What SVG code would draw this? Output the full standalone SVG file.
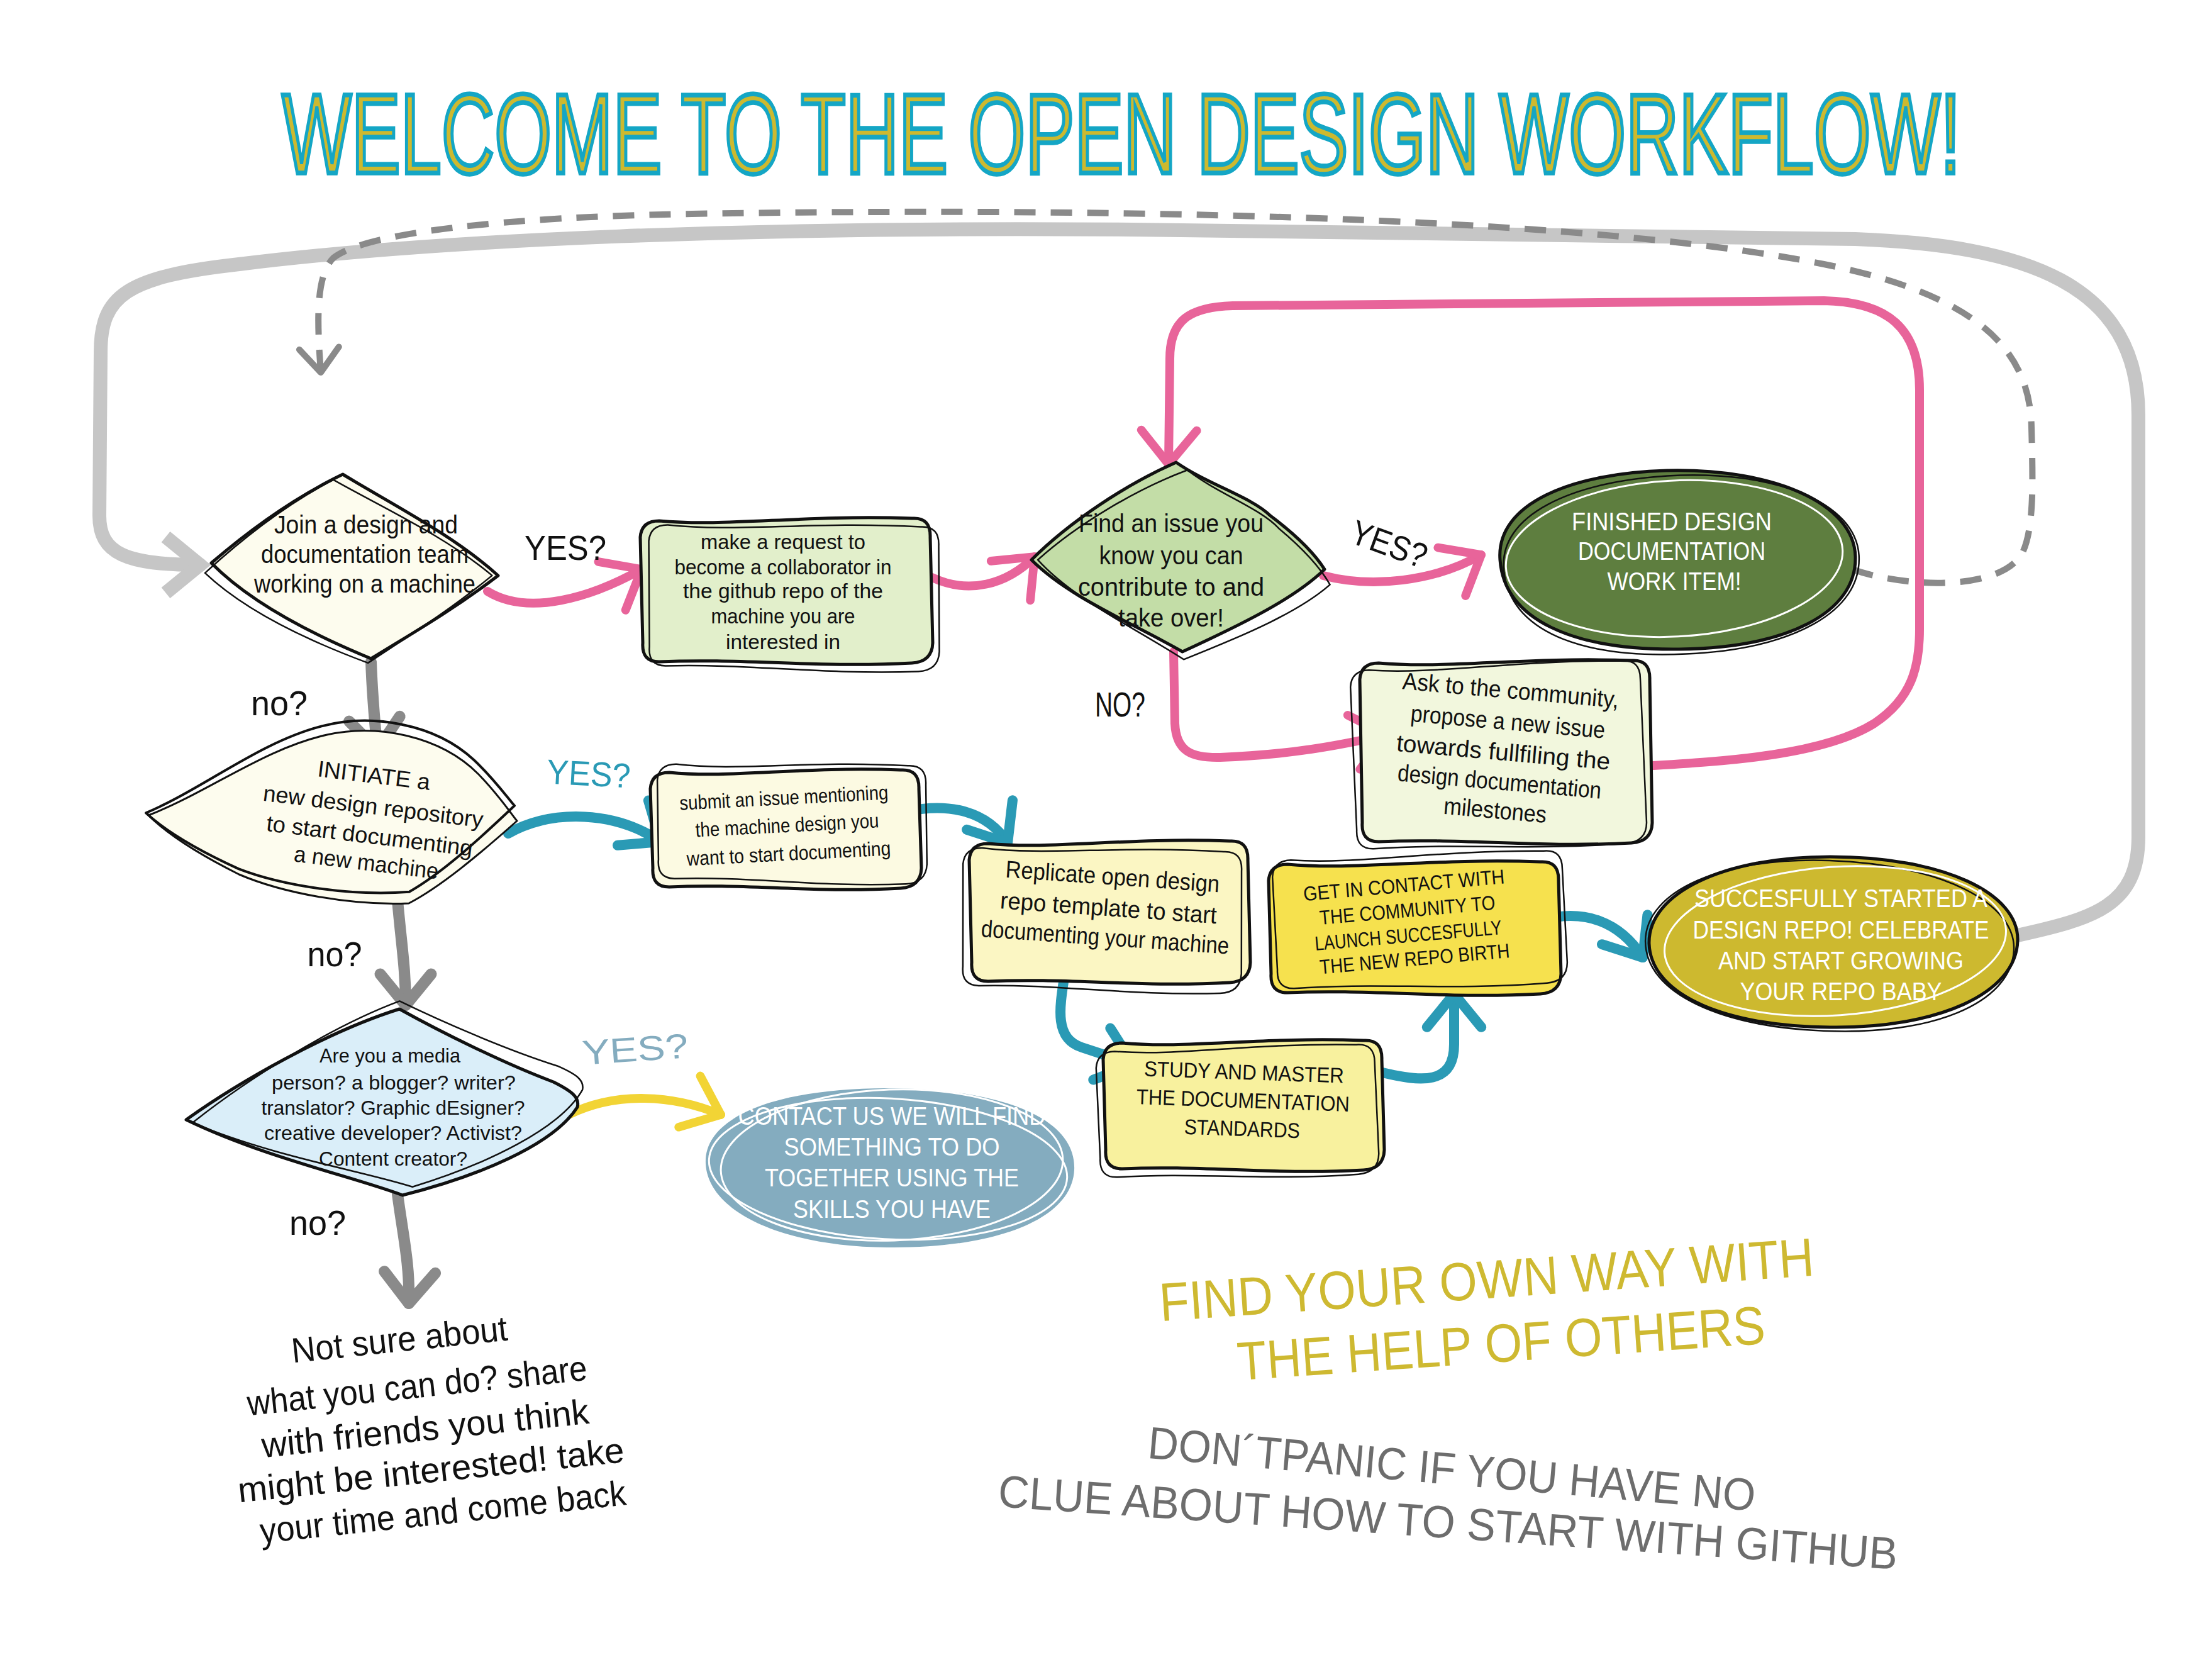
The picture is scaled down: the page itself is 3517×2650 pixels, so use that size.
<svg xmlns="http://www.w3.org/2000/svg" xmlns:xlink="http://www.w3.org/1999/xlink" width="3517" height="2650" viewBox="0 0 3517 2650">
<style>
.hand{font-family:"Liberation Sans Narrow","Liberation Sans",Arial,sans-serif;text-anchor:middle}
.blk{fill:#111}
.wht{fill:#fff}
.o1{stroke:#111;stroke-width:5;stroke-linejoin:round}
.o2{fill:none;stroke:#111;stroke-width:2.5;stroke-linejoin:round}
.wl{fill:none;stroke:#fff;stroke-width:3}
.c{fill:none;stroke-linecap:round;stroke-linejoin:round}
.pink{stroke:#E8649A;stroke-width:14}
.teal{stroke:#2A9AB5;stroke-width:16}
.gray{stroke:#8A8A8A;stroke-width:18}
.yel{stroke:#F2D435;stroke-width:14}
.loop{stroke:#C6C6C6;stroke-width:22}
.dash{stroke:#8A8A8A;stroke-width:10;stroke-dasharray:34 24;stroke-linecap:butt}
</style>
<defs>
<marker id="mPink" viewBox="0 0 10 10" refX="8" refY="5" markerWidth="7" markerHeight="7" orient="auto" markerUnits="strokeWidth" overflow="visible"><path d="M2.5,0.5 L8,5 L2.5,9.5" fill="none" stroke="#E8649A" stroke-width="1.4" stroke-linecap="round" stroke-linejoin="round"/></marker>
<marker id="mTeal" viewBox="0 0 10 10" refX="8" refY="5" markerWidth="6" markerHeight="6" orient="auto" markerUnits="strokeWidth" overflow="visible"><path d="M2.5,0.5 L8,5 L2.5,9.5" fill="none" stroke="#2A9AB5" stroke-width="1.67" stroke-linecap="round" stroke-linejoin="round"/></marker>
<marker id="mGray" viewBox="0 0 10 10" refX="8" refY="5" markerWidth="5" markerHeight="5" orient="auto" markerUnits="strokeWidth" overflow="visible"><path d="M2.5,0.5 L8,5 L2.5,9.5" fill="none" stroke="#8A8A8A" stroke-width="2" stroke-linecap="round" stroke-linejoin="round"/></marker>
<marker id="mYel" viewBox="0 0 10 10" refX="8" refY="5" markerWidth="7" markerHeight="7" orient="auto" markerUnits="strokeWidth" overflow="visible"><path d="M2.5,0.5 L8,5 L2.5,9.5" fill="none" stroke="#F2D435" stroke-width="1.4" stroke-linecap="round" stroke-linejoin="round"/></marker>
<marker id="mLoop" viewBox="0 0 10 10" refX="8" refY="5" markerWidth="4.5" markerHeight="4.5" orient="auto" markerUnits="strokeWidth" overflow="visible"><path d="M2.5,0.5 L8,5 L2.5,9.5" fill="none" stroke="#C6C6C6" stroke-width="2.2" stroke-linejoin="miter"/></marker>
<marker id="mDash" viewBox="0 0 10 10" refX="8" refY="5" markerWidth="7" markerHeight="7" orient="auto" markerUnits="strokeWidth" overflow="visible"><path d="M2.5,0.5 L8,5 L2.5,9.5" fill="none" stroke="#8A8A8A" stroke-width="1.43" stroke-dasharray="none" stroke-linecap="round" stroke-linejoin="round"/></marker>
<path id="sA" d="M545 754 C620 800,720 850,792 915 C720 970,650 1010,590 1047 C500 1010,400 960,336 895 C400 840,470 790,545 754 Z"/>
<path id="sB" d="M1048,828 C1158,838 1273,818 1450,824 Q1480,822 1479,854 L1483,1022 Q1482,1052 1450,1054 C1296,1062 1181,1046 1048,1052 Q1020,1052 1022,1022 L1018,854 Q1020,828 1048,828 Z"/>
<path id="sC" d="M1870 735 C1920 770,1990 790,2020 820 C2060 850,2090 880,2106 905 C2060 950,1980 990,1880 1036 C1800 990,1700 950,1640 890 C1700 830,1790 770,1870 735 Z"/>
<path id="sD" d="M2385 890 C2378 800,2500 752,2650 748 C2820 744,2948 800,2950 885 C2952 975,2840 1030,2670 1032 C2500 1034,2392 985,2385 890 Z"/>
<path id="sE" d="M2192,1054 C2302,1064 2417,1044 2594,1050 Q2624,1048 2623,1080 L2627,1308 Q2626,1338 2594,1340 C2440,1348 2325,1332 2192,1338 Q2164,1338 2166,1308 L2162,1080 Q2164,1054 2192,1054 Z"/>
<path id="sF" d="M236 1296 C330 1260,420 1190,520 1168 C600 1150,700 1170,760 1230 C790 1260,810 1290,822 1305 C760 1360,700 1410,650 1436 C560 1440,450 1420,380 1390 C320 1360,270 1330,236 1296 Z"/>
<path id="sG" d="M1064,1228 C1164,1238 1270,1218 1432,1224 Q1462,1222 1461,1254 L1465,1380 Q1464,1410 1432,1412 C1292,1420 1185,1404 1064,1410 Q1036,1410 1038,1380 L1034,1254 Q1036,1228 1064,1228 Z"/>
<path id="sH" d="M1571,1341 C1676,1351 1786,1331 1955,1337 Q1985,1335 1984,1367 L1988,1530 Q1987,1560 1955,1562 C1808,1570 1698,1554 1571,1560 Q1543,1560 1545,1530 L1541,1367 Q1543,1341 1571,1341 Z"/>
<path id="sI" d="M2047,1374 C2157,1384 2272,1364 2449,1370 Q2479,1368 2478,1400 L2482,1548 Q2481,1578 2449,1580 C2295,1588 2180,1572 2047,1578 Q2019,1578 2021,1548 L2017,1400 Q2019,1374 2047,1374 Z"/>
<path id="sJ" d="M1784,1658 C1889,1668 1999,1648 2168,1654 Q2198,1652 2197,1684 L2201,1828 Q2200,1858 2168,1860 C2021,1868 1911,1852 1784,1858 Q1756,1858 1758,1828 L1754,1684 Q1756,1658 1784,1658 Z"/>
<path id="sK" d="M2622 1500 C2620 1420,2740 1362,2910 1362 C3090 1362,3210 1420,3208 1495 C3206 1580,3080 1635,2910 1633 C2750 1632,2625 1585,2622 1500 Z"/>
<path id="sL" d="M635 1604 C700 1640,800 1690,880 1720 C910 1735,922 1745,918 1760 C880 1820,760 1870,640 1900 C560 1870,420 1840,296 1780 C380 1720,520 1640,635 1604 Z"/>
<path id="sM" d="M1122 1850 C1118 1770,1250 1728,1420 1730 C1600 1732,1712 1780,1708 1860 C1704 1940,1580 1985,1410 1983 C1240 1981,1126 1925,1122 1850 Z"/>
</defs>
<rect width="3517" height="2650" fill="#fff"/>

<g transform="translate(1783,275) scale(1,1.5)">
<text id="title" class="hand" x="0" y="0" font-size="120" textLength="2669" lengthAdjust="spacingAndGlyphs" fill="#CDB92F" stroke="#14A6C5" stroke-width="5">WELCOME TO THE OPEN DESIGN WORKFLOW!</text>
</g>

<g id="connectors">
<path class="c loop" d="M3208 1487 C3330 1460,3400 1440,3400 1330 L3400 660 C3400 450,3220 390,2950 380 L1800 365 C1200 360,700 380,380 420 C200 440,160 470,160 560 L158 820 C158 880,200 898,318 898" marker-end="url(#mLoop)"/>
<path class="c dash" d="M2945 905 C3030 935,3180 940,3215 880 C3235 840,3232 760,3230 680 C3228 560,3150 470,2900 420 C2500 340,1700 330,1100 340 C800 345,580 370,530 410 C500 440,505 520,510 592" marker-end="url(#mDash)"/>
<path class="c pink" d="M775 940 C840 980,940 950,1020 905" marker-end="url(#mPink)"/>
<path class="c pink" d="M1482 918 C1540 945,1600 930,1645 885" marker-end="url(#mPink)"/>
<path class="c pink" d="M2104 915 C2180 935,2280 925,2355 882" marker-end="url(#mPink)"/>
<path class="c pink" d="M1866 1036 L1868 1150 C1870 1195,1895 1205,1940 1204 C2050 1200,2130 1185,2205 1168" marker-end="url(#mPink)"/>
<path class="c pink" d="M2613 1218 C2750 1210,2900 1200,2980 1150 C3040 1110,3052 1060,3052 1000 L3052 620 C3052 520,3000 480,2900 478 L1960 486 C1890 488,1860 510,1860 570 L1858 738" marker-end="url(#mPink)"/>
<path class="c teal" d="M808 1325 C880 1285,980 1290,1050 1338" marker-end="url(#mTeal)"/>
<path class="c teal" d="M1442 1290 C1510 1275,1570 1290,1602 1340" marker-end="url(#mTeal)"/>
<path class="c teal" d="M1693 1548 C1685 1600,1675 1650,1720 1665 L1802 1692" marker-end="url(#mTeal)"/>
<path class="c teal" d="M2198 1705 C2260 1720,2312 1725,2312 1660 L2312 1580" marker-end="url(#mTeal)"/>
<path class="c teal" d="M2452 1462 C2520 1445,2575 1465,2612 1522" marker-end="url(#mTeal)"/>
<path class="c gray" d="M590 1052 C592 1110,596 1150,600 1192" marker-end="url(#mGray)"/>
<path class="c gray" d="M632 1431 C638 1500,645 1540,645 1598" marker-end="url(#mGray)"/>
<path class="c gray" d="M632 1898 C640 1960,652 2010,650 2072" marker-end="url(#mGray)"/>
<path class="c yel" d="M904 1772 C980 1735,1070 1740,1146 1772" marker-end="url(#mYel)"/>
</g>

<g id="join">
<use href="#sA" class="o1" fill="#FDFCEE"/>
<use href="#sA" class="o2" transform="translate(-10,8) rotate(-2 560 900)"/>
<text class="hand blk" font-size="40" x="582" y="848" textLength="292" lengthAdjust="spacingAndGlyphs">Join a design and</text>
<text class="hand blk" font-size="40" x="580" y="895" textLength="330" lengthAdjust="spacingAndGlyphs">documentation team</text>
<text class="hand blk" font-size="40" x="580" y="942" textLength="352" lengthAdjust="spacingAndGlyphs">working on a machine</text>
</g>

<g id="request">
<use href="#sB" class="o1" fill="#E2EFCB"/>
<use href="#sB" class="o2" transform="translate(12,10) rotate(1 1250 940)"/>
<g class="hand blk" font-size="34">
<text x="1245" y="873" textLength="262" lengthAdjust="spacingAndGlyphs">make a request to</text>
<text x="1245" y="913" textLength="345" lengthAdjust="spacingAndGlyphs">become a collaborator in</text>
<text x="1245" y="951" textLength="318" lengthAdjust="spacingAndGlyphs">the github repo of the</text>
<text x="1245" y="991" textLength="229" lengthAdjust="spacingAndGlyphs">machine you are</text>
<text x="1245" y="1032" textLength="182" lengthAdjust="spacingAndGlyphs">interested in</text>
</g>
</g>

<g id="findissue">
<use href="#sC" class="o1" fill="#C3DDA7"/>
<use href="#sC" class="o2" transform="translate(10,12) rotate(3 1870 885)"/>
<g class="hand blk" font-size="40">
<text x="1862" y="846" textLength="294" lengthAdjust="spacingAndGlyphs">Find an issue you</text>
<text x="1862" y="897" textLength="229" lengthAdjust="spacingAndGlyphs">know you can</text>
<text x="1862" y="947" textLength="296" lengthAdjust="spacingAndGlyphs">contribute to and</text>
<text x="1862" y="996" textLength="168" lengthAdjust="spacingAndGlyphs">take over!</text>
</g>
</g>

<g id="finished">
<use href="#sD" class="o1" fill="#5E7E3F"/>
<use href="#sD" class="o2" transform="translate(6,8) rotate(-2 2660 890)"/>
<ellipse class="wl" cx="2662" cy="888" rx="268" ry="124" transform="rotate(-3 2662 888)"/>
<g class="hand wht" font-size="40">
<text x="2658" y="843" textLength="318" lengthAdjust="spacingAndGlyphs">FINISHED DESIGN</text>
<text x="2658" y="890" textLength="298" lengthAdjust="spacingAndGlyphs">DOCUMENTATION</text>
<text x="2662" y="938" textLength="213" lengthAdjust="spacingAndGlyphs">WORK ITEM!</text>
</g>
</g>

<g id="ask">
<use href="#sE" class="o1" fill="#F2F7DD"/>
<use href="#sE" class="o2" transform="translate(-12,6) rotate(-1.5 2393 1190)"/>
<g class="hand blk" font-size="38" transform="rotate(5 2393 1200)">
<text x="2393" y="1110" textLength="345" lengthAdjust="spacingAndGlyphs">Ask to the community,</text>
<text x="2393" y="1160" textLength="310" lengthAdjust="spacingAndGlyphs">propose a new issue</text>
<text x="2390" y="1209" textLength="341" lengthAdjust="spacingAndGlyphs">towards fullfiling the</text>
<text x="2388" y="1256" textLength="325" lengthAdjust="spacingAndGlyphs">design documentation</text>
<text x="2385" y="1302" textLength="164" lengthAdjust="spacingAndGlyphs">milestones</text>
</g>
</g>

<g id="initiate">
<use href="#sF" class="o1" fill="#FDFCEE" style="stroke-width:3"/>
<use href="#sF" class="o2" transform="translate(-4,-14) rotate(-2 530 1300)" style="stroke-width:4"/>
<g class="hand blk" font-size="36" transform="rotate(7 590 1310)">
<text x="585" y="1245" textLength="180" lengthAdjust="spacingAndGlyphs">INITIATE a</text>
<text x="590" y="1294" textLength="352" lengthAdjust="spacingAndGlyphs">new design repository</text>
<text x="590" y="1341" textLength="330" lengthAdjust="spacingAndGlyphs">to start documenting</text>
<text x="590" y="1384" textLength="231" lengthAdjust="spacingAndGlyphs">a new machine</text>
</g>
</g>

<g id="submit">
<use href="#sG" class="o1" fill="#FCFAE2"/>
<use href="#sG" class="o2" transform="translate(10,-10) rotate(1 1249 1316)"/>
<g class="hand blk" font-size="32" transform="rotate(-3 1249 1320)">
<text x="1249" y="1279" textLength="332" lengthAdjust="spacingAndGlyphs">submit an issue mentioning</text>
<text x="1252" y="1323" textLength="292" lengthAdjust="spacingAndGlyphs">the machine design you</text>
<text x="1252" y="1368" textLength="325" lengthAdjust="spacingAndGlyphs">want to start documenting</text>
</g>
</g>

<g id="replicate">
<use href="#sH" class="o1" fill="#FBF6C3"/>
<use href="#sH" class="o2" transform="translate(-12,12) rotate(1.5 1764 1448)"/>
<g class="hand blk" font-size="38" transform="rotate(4 1760 1450)">
<text x="1765" y="1406" textLength="341" lengthAdjust="spacingAndGlyphs">Replicate open design</text>
<text x="1762" y="1456" textLength="345" lengthAdjust="spacingAndGlyphs">repo template to start</text>
<text x="1760" y="1503" textLength="395" lengthAdjust="spacingAndGlyphs">documenting your machine</text>
</g>
</g>

<g id="contactcommunity">
<use href="#sI" class="o1" fill="#F6E14E"/>
<use href="#sI" class="o2" transform="translate(8,-12) rotate(-1.5 2249 1473)"/>
<g class="hand blk" font-size="32" transform="rotate(-5 2238 1475)">
<text x="2238" y="1418" textLength="321" lengthAdjust="spacingAndGlyphs">GET IN CONTACT WITH</text>
<text x="2240" y="1458" textLength="280" lengthAdjust="spacingAndGlyphs">THE COMMUNITY TO</text>
<text x="2238" y="1498" textLength="298" lengthAdjust="spacingAndGlyphs">LAUNCH SUCCESFULLY</text>
<text x="2245" y="1536" textLength="303" lengthAdjust="spacingAndGlyphs">THE NEW REPO BIRTH</text>
</g>
</g>

<g id="study">
<use href="#sJ" class="o1" fill="#F8F19E"/>
<use href="#sJ" class="o2" transform="translate(-10,10) rotate(-1 1977 1755)"/>
<g class="hand blk" font-size="34" transform="rotate(2 1976 1760)">
<text x="1976" y="1716" textLength="318" lengthAdjust="spacingAndGlyphs">STUDY AND MASTER</text>
<text x="1976" y="1761" textLength="339" lengthAdjust="spacingAndGlyphs">THE DOCUMENTATION</text>
<text x="1976" y="1806" textLength="184" lengthAdjust="spacingAndGlyphs">STANDARDS</text>
</g>
</g>

<g id="started">
<use href="#sK" class="o1" fill="#CDB92F"/>
<use href="#sK" class="o2" transform="translate(-6,6) rotate(2 2915 1498)"/>
<ellipse class="wl" cx="2918" cy="1496" rx="272" ry="118" transform="rotate(-4 2918 1496)"/>
<g class="hand wht" font-size="40">
<text x="2927" y="1442" textLength="466" lengthAdjust="spacingAndGlyphs">SUCCESFULLY STARTED A</text>
<text x="2927" y="1492" textLength="471" lengthAdjust="spacingAndGlyphs">DESIGN REPO! CELEBRATE</text>
<text x="2927" y="1541" textLength="390" lengthAdjust="spacingAndGlyphs">AND START GROWING</text>
<text x="2927" y="1590" textLength="321" lengthAdjust="spacingAndGlyphs">YOUR REPO BABY</text>
</g>
</g>

<g id="media">
<use href="#sL" class="o1" fill="#DAEEF9"/>
<use href="#sL" class="o2" transform="translate(8,-12) rotate(-3 620 1750)"/>
<g class="hand blk" font-size="32">
<text x="620" y="1689" textLength="224" lengthAdjust="spacingAndGlyphs">Are you a media</text>
<text x="626" y="1732" textLength="388" lengthAdjust="spacingAndGlyphs">person? a blogger? writer?</text>
<text x="625" y="1772" textLength="419" lengthAdjust="spacingAndGlyphs">translator? Graphic dEsigner?</text>
<text x="625" y="1812" textLength="410" lengthAdjust="spacingAndGlyphs">creative developer? Activist?</text>
<text x="625" y="1853" textLength="236" lengthAdjust="spacingAndGlyphs">Content creator?</text>
</g>
</g>

<g id="contactus">
<use href="#sM" fill="#84ACBF"/>
<ellipse class="wl" cx="1418" cy="1852" rx="272" ry="120" transform="rotate(-2 1418 1852)"/>
<ellipse class="wl" cx="1412" cy="1858" rx="285" ry="112" transform="rotate(3 1412 1858)"/>
<g class="hand wht" font-size="40">
<text x="1418" y="1788" textLength="489" lengthAdjust="spacingAndGlyphs">CONTACT US WE WILL FIND</text>
<text x="1418" y="1837" textLength="343" lengthAdjust="spacingAndGlyphs">SOMETHING TO DO</text>
<text x="1418" y="1886" textLength="404" lengthAdjust="spacingAndGlyphs">TOGETHER USING THE</text>
<text x="1418" y="1936" textLength="314" lengthAdjust="spacingAndGlyphs">SKILLS YOU HAVE</text>
</g>
</g>

<g id="labels" class="hand" font-size="55">
<text x="899" y="890" fill="#111" textLength="130" lengthAdjust="spacingAndGlyphs">YES?</text>
<text x="444" y="1137" fill="#111" textLength="90" lengthAdjust="spacingAndGlyphs">no?</text>
<text x="936" y="1249" fill="#2A9AB5" textLength="133" lengthAdjust="spacingAndGlyphs" transform="rotate(3 936 1230)">YES?</text>
<text x="532" y="1536" fill="#111" textLength="87" lengthAdjust="spacingAndGlyphs">no?</text>
<text x="1010" y="1687" fill="#84ACBF" textLength="169" lengthAdjust="spacingAndGlyphs" transform="rotate(-4 1010 1670)">YES?</text>
<text x="505" y="1963" fill="#111" textLength="90" lengthAdjust="spacingAndGlyphs">no?</text>
<text x="2209" y="884" fill="#111" textLength="125" lengthAdjust="spacingAndGlyphs" transform="rotate(20 2209 864)">YES?</text>
<text x="1781" y="1139" fill="#111" textLength="80" lengthAdjust="spacingAndGlyphs">NO?</text>
</g>

<g id="notsure" class="hand blk" font-size="56" transform="rotate(-6 676 2270)">
<text x="650" y="2145" textLength="345" lengthAdjust="spacingAndGlyphs">Not sure about</text>
<text x="670" y="2221" textLength="543" lengthAdjust="spacingAndGlyphs">what you can do? share</text>
<text x="676" y="2290" textLength="523" lengthAdjust="spacingAndGlyphs">with friends you think</text>
<text x="678" y="2357" textLength="617" lengthAdjust="spacingAndGlyphs">might be interested! take</text>
<text x="690" y="2425" textLength="585" lengthAdjust="spacingAndGlyphs">your time and come back</text>
</g>

<g id="findway" class="hand" font-size="86" fill="#CEB931">
<text x="2364" y="2064" textLength="1043" lengthAdjust="spacingAndGlyphs" transform="rotate(-4 2364 2040)">FIND YOUR OWN WAY WITH</text>
<text x="2387" y="2165" textLength="841" lengthAdjust="spacingAndGlyphs" transform="rotate(-4 2387 2140)">THE HELP OF OTHERS</text>
</g>

<g id="dontpanic" class="hand" font-size="72" fill="#6D6D6D">
<text x="2308" y="2360" textLength="969" lengthAdjust="spacingAndGlyphs" transform="rotate(5 2308 2340)">DON´TPANIC IF YOU HAVE NO</text>
<text x="2302" y="2445" textLength="1433" lengthAdjust="spacingAndGlyphs" transform="rotate(4 2302 2425)">CLUE ABOUT HOW TO START WITH GITHUB</text>
</g>
</svg>
